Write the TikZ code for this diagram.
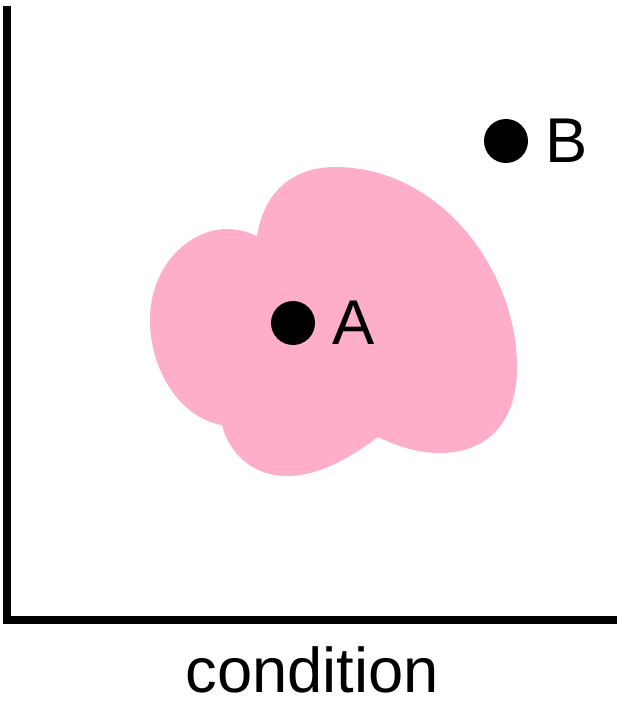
\documentclass[tikz,border=0pt]{standalone}
\usepackage{fontspec}
\setmainfont{Liberation Sans}
\usepackage{tikz}
\usetikzlibrary{positioning}
\definecolor{blobpink}{RGB}{255,174,201}
\tikzstyle{dot}=[circle,fill=black, minimum size = 4.4mm, inner sep=0pt]
\tikzstyle{lbl}=[inner sep=0pt, font=\fontsize{18pt}{21pt}\selectfont]

\begin{document}
\begin{tikzpicture}
        [x=0.1mm,y=-0.1mm]
            \useasboundingbox (0,0) rectangle (623,701);
            \fill [blobpink] (257,236) .. controls (265,185) and (300,167) .. (335,167)
                .. controls (440,167) and (517,270) .. (517,367)
                .. controls (517,430) and (480,453) .. (440,453)
                .. controls (415,453) and (395,445) .. (378,437)
                .. controls (345,462) and (315,476) .. (287,476)
                .. controls (250,476) and (228,450) .. (222,425)
                .. controls (180,418) and (150,370) .. (150,320)
                .. controls (150,265) and (190,229) .. (227,229)
                .. controls (238,229) and (248,232) .. (257,236) -- cycle;
            \coordinate (top) at (7,6);
            \coordinate (origin) at (7,620);
            \coordinate (right) at (617,620);
            \draw [line width=0.8mm] (top) -- (origin) -- (right);
            \node [dot] (ptA) at (293,323) {};
            \node [lbl,right=1.6mm of ptA] (labA) {A};
            \node [dot] (ptB) at (506,141) {};
            \node [lbl,right=1.6mm of ptB] (labB) {B};
            \node [lbl] (xlabel) at (312,670) {condition};
        \end{tikzpicture}
\end{document}
